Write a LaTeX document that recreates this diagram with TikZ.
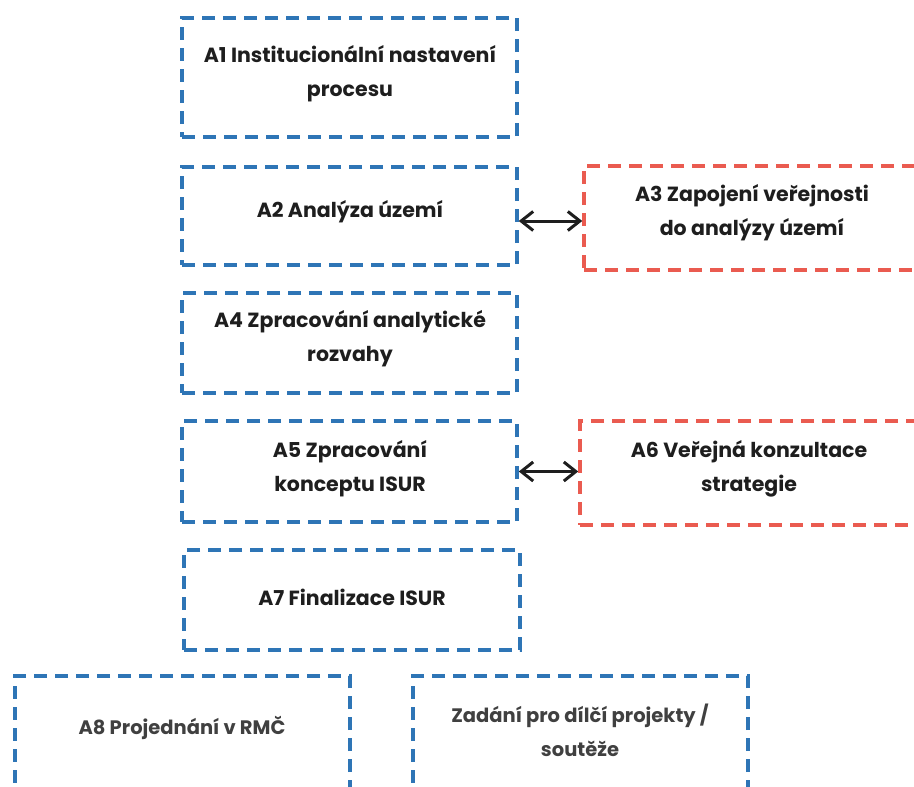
\documentclass[tikz,border=0pt]{standalone}
\usepackage{fontspec}
\setmainfont{Poppins}
\usetikzlibrary{arrows.meta}
\definecolor{bl}{HTML}{2E75B6}
\definecolor{rd}{HTML}{EA5B50}
\definecolor{tx}{HTML}{1E1E1E}
\tikzset{
  boxbase/.style={draw, line width=3.5pt, dash pattern=on 13pt off 8pt, rectangle, inner sep=0pt},
  bluebox/.style={boxbase, draw=bl},
  redbox/.style={boxbase, draw=rd},
  lbl/.style={text=tx, align=center, font=\bfseries\fontsize{20.5}{34}\selectfont, inner sep=0pt},
  lbllight/.style={text=tx!85, align=center, font=\bfseries\fontsize{19.5}{34}\selectfont, inner sep=0pt},
  biarrow/.style={{Straight Barb[length=12pt,width=19pt]}-{Straight Barb[length=12pt,width=19pt]}, line width=3pt, draw=tx}
}
\begin{document}
\begin{tikzpicture}[x=1pt,y=-1pt]
\useasboundingbox (0,0) rectangle (914,787);
\clip (0,0) rectangle (914,787);
% boxes
\node[bluebox, minimum width=335pt, minimum height=119pt] (a1) at (349.5,77.5) {};
\node[bluebox, minimum width=335pt, minimum height=98pt] (a2) at (349.5,216) {};
\node[redbox, minimum width=376pt, minimum height=104pt] (a3) at (772,218) {};
\node[bluebox, minimum width=335pt, minimum height=100pt] (a4) at (349.5,343) {};
\node[bluebox, minimum width=335pt, minimum height=101pt] (a5) at (349.5,471.5) {};
\node[redbox, minimum width=380pt, minimum height=104pt] (a6) at (770,473) {};
\node[bluebox, minimum width=336pt, minimum height=100pt] (a7) at (352,600) {};
\node[bluebox, minimum width=335pt, minimum height=160pt] (a8) at (182.5,756) {};
\node[bluebox, minimum width=335pt, minimum height=160pt] (zd) at (580.5,756) {};
% texts
\node[lbl] (t1) at (350,74) {A1 Institucionální nastavení\\procesu};
\node[lbl] (t2) at (350,212) {A2 Analýza území};
\node[lbl] (t3) at (752,213) {A3 Zapojení veřejnosti\\do analýzy území};
\node[lbl] (t4) at (350,339) {A4 Zpracování analytické\\rozvahy};
\node[lbl] (t5) at (350,469) {A5 Zpracování\\konceptu ISUR};
\node[lbl] (t6) at (749,469) {A6 Veřejná konzultace\\strategie};
\node[lbl] (t7) at (352,597) {A7 Finalizace ISUR};
\node[lbllight] (t8) at (182,728) {A8 Projednání v RMČ};
\node[lbllight] (t9) at (580,730) {Zadání pro dílčí projekty /\\soutěže};
% arrows
\draw[biarrow] ([yshift=-5pt]a2.east) -- ([yshift=-5pt]a2.east -| a3.west);
\draw[biarrow] (a5.east) -- (a5.east -| a6.west);
\end{tikzpicture}
\end{document}
